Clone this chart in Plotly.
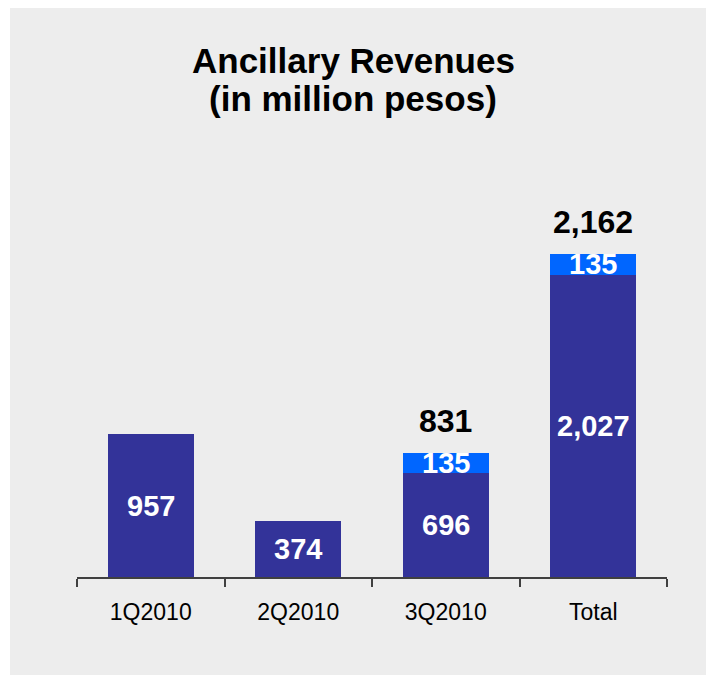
import plotly.graph_objects as go

categories = ['1Q2010', '2Q2010', '3Q2010', 'Total']
base_values = [957, 374, 696, 2027]
extra_values = [0, 0, 135, 135]
totals = [None, None, 831, 2162]

DARK = '#333399'
LIGHT = '#0066FF'
GREY = '#EDEDED'
FONT = 'Arial, Liberation Sans, sans-serif'

fig = go.Figure()
fig.add_trace(go.Bar(x=categories, y=base_values, marker=dict(color=DARK, line=dict(width=0)),
                     hoverinfo='x+y'))
fig.add_trace(go.Bar(x=categories, y=extra_values, marker=dict(color=LIGHT, line=dict(width=0)),
                     hoverinfo='x+y'))

# labels inside the segments
for cat, b, e in zip(categories, base_values, extra_values):
    fig.add_annotation(x=cat, y=b / 2, text='<b>{:,}</b>'.format(b), showarrow=False,
                       font=dict(family=FONT, size=29, color='white'), yanchor='middle')
    if e:
        fig.add_annotation(x=cat, y=b + e / 2, text='<b>{:,}</b>'.format(e), showarrow=False,
                           font=dict(family=FONT, size=29, color='white'), yanchor='middle')

# totals above stacked bars
for cat, t in zip(categories, totals):
    if t:
        fig.add_annotation(x=cat, y=t, text='<b>{:,}</b>'.format(t), showarrow=False,
                           font=dict(family=FONT, size=32, color='black'),
                           yanchor='bottom', yshift=12)

# title, two lines
fig.add_annotation(xref='paper', yref='paper', x=0.4678, y=1.330, text='<b>Ancillary Revenues</b>',
                   showarrow=False, font=dict(family=FONT, size=35, color='black'), yanchor='middle')
fig.add_annotation(xref='paper', yref='paper', x=0.4678, y=1.232, text='<b>(in million pesos)</b>',
                   showarrow=False, font=dict(family=FONT, size=35, color='black'), yanchor='middle')

# white strips outside the grey panel (top and left)
fig.add_shape(type='rect', xref='paper', yref='paper', x0=-0.2, x1=1.2, y0=1.4665, y1=1.6,
              fillcolor='white', line=dict(width=0), layer='below')
fig.add_shape(type='rect', xref='paper', yref='paper', x0=-0.2, x1=-0.1136, y0=-0.4, y1=1.6,
              fillcolor='white', line=dict(width=0), layer='below')

# canvas a bit larger than the window so the grey reaches the right/bottom edges
fig.update_layout(
    width=720, height=690,
    margin=dict(l=77, r=53, t=189, b=113),
    barmode='stack', bargap=0.42,
    showlegend=False,
    paper_bgcolor=GREY,
    plot_bgcolor='rgba(0,0,0,0)',
    font=dict(family=FONT),
)
fig.update_xaxes(showline=True, linecolor='#404040', linewidth=2, ticks='outside', tickson='boundaries',
                 ticklen=8, tickwidth=2, tickcolor='#404040', showgrid=False,
                 tickfont=dict(family=FONT, size=23, color='black'), ticklabelstandoff=13)
fig.update_yaxes(range=[0, 2600], visible=False, showgrid=False)

# page has default body margin; remove it so the figure sits at the window corner
fig.write_html('out.html', config={'displayModeBar': False},
               post_script="document.body.style.margin='0';document.body.style.overflow='hidden';")
